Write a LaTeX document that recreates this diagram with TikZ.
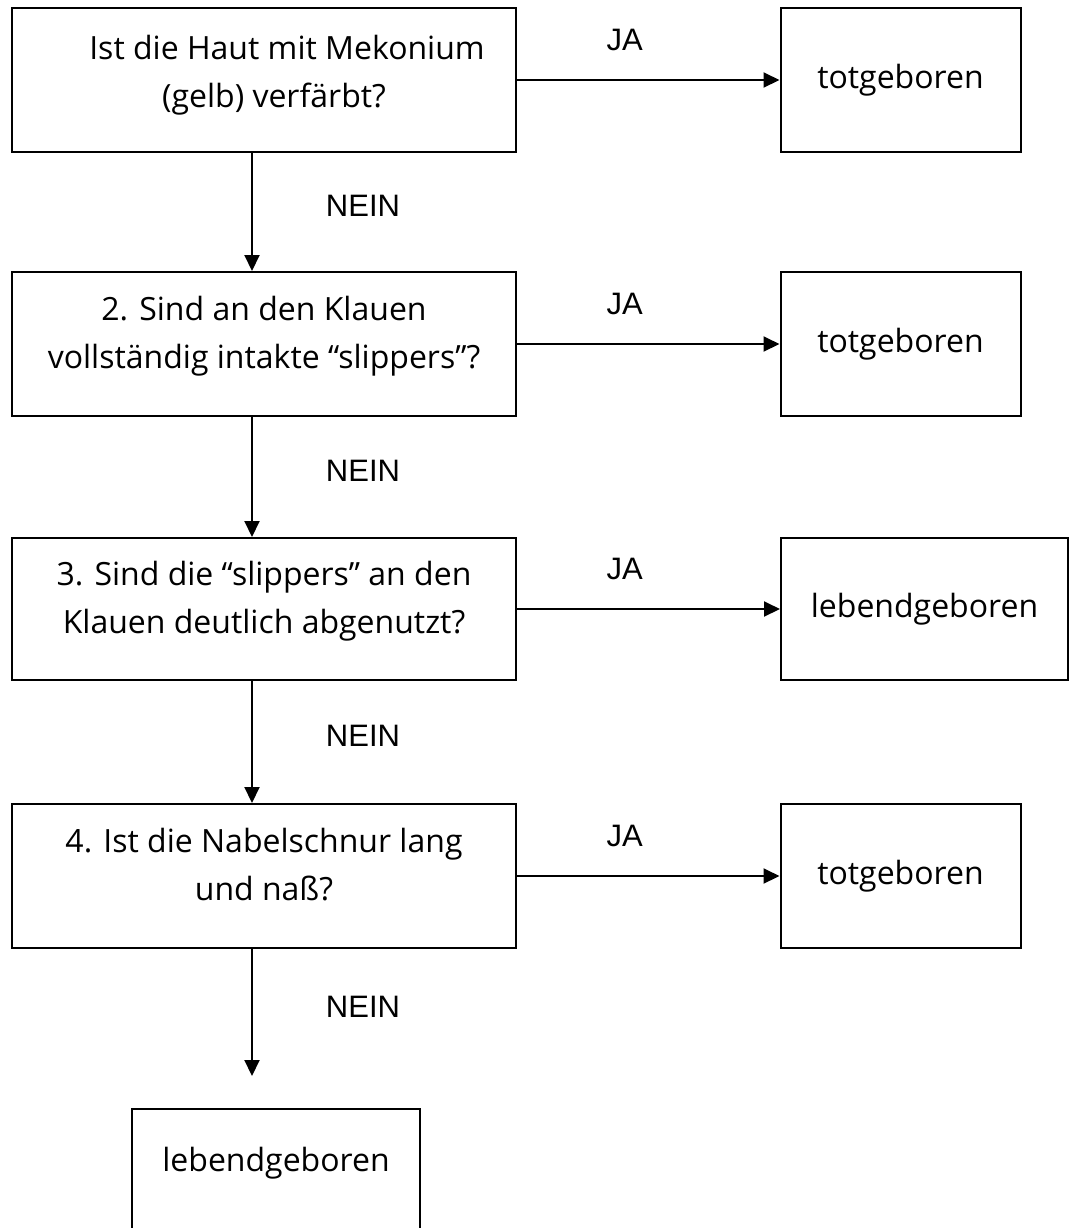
\documentclass[tikz,border=0pt]{standalone}
\usepackage{fontspec}
\usetikzlibrary{arrows.meta,positioning}
\newfontfamily\boxfont{Open Sans}
\newfontfamily\labelfont{Liberation Sans}

\tikzset{
	frage/.style={draw, line width=1pt, minimum width=252pt, minimum height=72pt, inner sep=0pt,
		align=center, font=\boxfont\fontsize{16pt}{24pt}\selectfont},
	ergebnis/.style={frage, minimum width=120pt},
	pfeil/.style={-{Triangle[length=8pt,width=7.5pt]}, line width=1pt},
	ja/.style={font=\labelfont\fontsize{15.5pt}{18pt}\selectfont, pos=0.41, yshift=20pt},
	nein/.style={font=\labelfont\fontsize{15.5pt}{18pt}\selectfont, xshift=55.5pt, yshift=3pt}
}

\begin{document}
\begin{tikzpicture}[x=0.5pt, y=-0.5pt]
					\useasboundingbox (0,0) rectangle (1074,1228);
					\clip (0,0) rectangle (1074,1228);

					\node[frage, text depth=9pt]     (q1) at (264,80)   {\hspace*{23pt}Ist die Haut mit Mekonium\\\hspace*{10pt}(gelb) verfärbt?};
					\node[frage, text depth=12pt]    (q2) at (264,344)  {2. Sind an den Klauen\\vollständig intakte “slippers”?};
					\node[frage, text depth=12pt, minimum height=71pt] (q3) at (264,609) {3. Sind die “slippers” an den\\Klauen deutlich abgenutzt?};
					\node[frage, text depth=12pt]    (q4) at (264,876)  {4. Ist die Nabelschnur lang\\und naß?};

					\node[ergebnis]                  (r1) at (900.5,80)  {totgeboren};
					\node[ergebnis]                  (r2) at (900.5,344) {totgeboren};
					\node[ergebnis, minimum width=143.5pt, minimum height=71pt] (r3) at (924.5,609) {lebendgeboren};
					\node[ergebnis]                  (r4) at (900.5,876) {totgeboren};
					\node[ergebnis, minimum width=144pt, text depth=22pt] (r5) at (276,1181) {lebendgeboren};

					\coordinate (stem) at (252,0);
					\coordinate (ende) at (252,1076);

					\draw[pfeil] (q1.east) -- node[ja]{JA} (r1.west);
					\draw[pfeil] (q2.east) -- node[ja]{JA} (r2.west);
					\draw[pfeil] (q3.east) -- node[ja]{JA} (r3.west);
					\draw[pfeil] (q4.east) -- node[ja]{JA} (r4.west);

					\draw[pfeil] (q1.south -| stem) -- node[nein]{NEIN} (q2.north -| stem);
					\draw[pfeil] (q2.south -| stem) -- node[nein]{NEIN} (q3.north -| stem);
					\draw[pfeil] (q3.south -| stem) -- node[nein]{NEIN} (q4.north -| stem);
					\draw[pfeil] (q4.south -| stem) -- node[nein]{NEIN} (ende);
				\end{tikzpicture}
\end{document}
